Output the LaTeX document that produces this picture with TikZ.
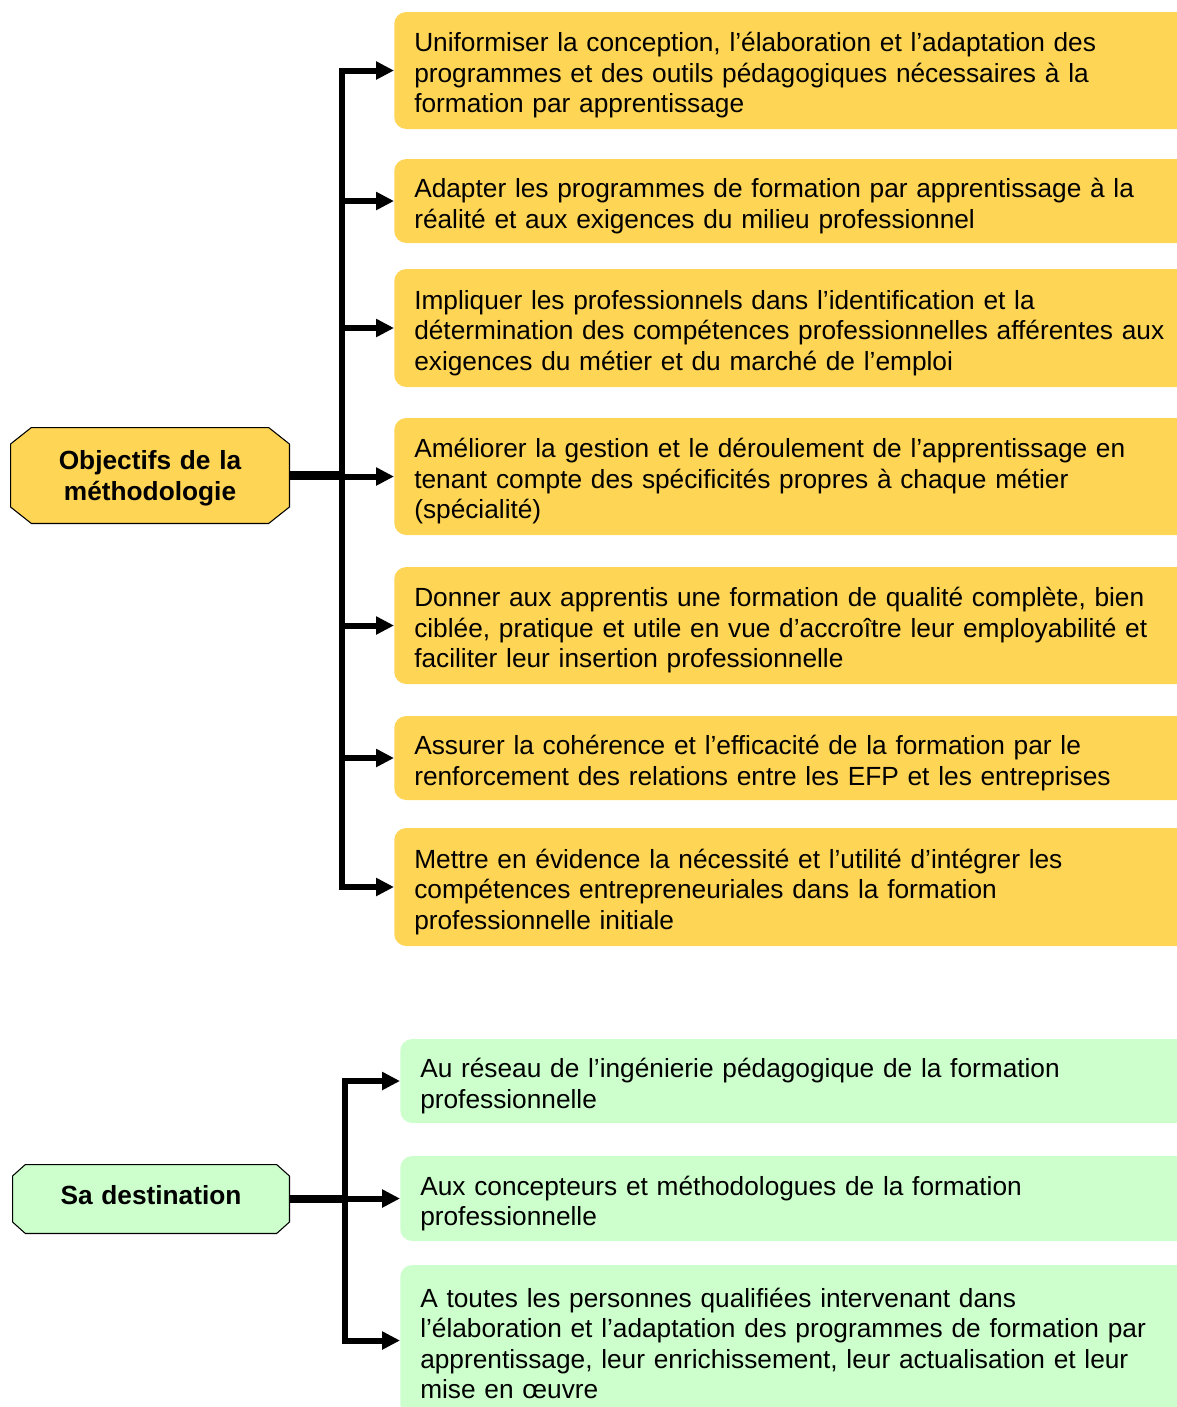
\documentclass[tikz,border=0pt]{standalone}
\usepackage{fontspec}
\setmainfont{Liberation Sans}
\usetikzlibrary{arrows.meta}
\definecolor{goldfill}{HTML}{FFD555}
\definecolor{mintfill}{HTML}{CCFFCC}
\tikzset{
  % fixed height of the first line and depth of the last one, so that every
  % text block is centred the same way whatever its letters
  strutted/.style 2 args={execute at begin node={\rule{0pt}{#1}},
    execute at end node={\rule[-#2]{0pt}{#2}}},
  item/.style={anchor=west, rounded corners=9pt, text width=585pt, inner xsep=15pt,
    inner ysep=0pt, align=left, strutted={22pt}{3.4pt},
    font=\fontsize{19.7}{22.9}\selectfont},
  gold/.style={item, fill=goldfill},
  mint/.style={item, fill=mintfill},
  % octagonal label: a plain node whose background is a chamfered outline
  hub/.style n args={3}{align=center, inner sep=0pt,
    font=\bfseries\fontsize{19.7}{23.2}\selectfont,
    path picture={
      \filldraw[fill=#1, line width=0.8pt]
        ([xshift=#2, yshift=-0.4pt]path picture bounding box.north west)
        -- ([xshift=-#2, yshift=-0.4pt]path picture bounding box.north east)
        -- ([xshift=-0.4pt, yshift=-#3]path picture bounding box.north east)
        -- ([xshift=-0.4pt, yshift=#3]path picture bounding box.south east)
        -- ([xshift=-#2, yshift=0.4pt]path picture bounding box.south east)
        -- ([xshift=#2, yshift=0.4pt]path picture bounding box.south west)
        -- ([xshift=0.4pt, yshift=#3]path picture bounding box.south west)
        -- ([xshift=0.4pt, yshift=-#3]path picture bounding box.north west)
        -- cycle;}},
  trunk/.style={line width=4.5pt},
  feed/.style={line width=6.5pt},
  tip/.tip={Triangle[length=13.5pt,width=13pt]},
  arr/.style={trunk, -tip},
}
\begin{document}
\begin{tikzpicture}[x=0.75pt, y=-0.75pt]
\useasboundingbox (0,0) rectangle (1177,1407);
\clip (0,0) rectangle (1177,1407);

% --- objectives ---
\node[gold, minimum height=87.75pt] (b1) at (394,70.5)
  {Uniformiser la conception, l’élaboration et l’adaptation des\\programmes et des outils pédagogiques nécessaires à la\\formation par apprentissage};
\node[gold, minimum height=63pt] (b2) at (394,201)
  {Adapter les programmes de formation par apprentissage à la\\réalité et aux exigences du milieu professionnel};
\node[gold, minimum height=88.5pt] (b3) at (394,328)
  {Impliquer les professionnels dans l’identification et la\\détermination des compétences professionnelles afférentes aux\\exigences du métier et du marché de l’emploi};
\node[gold, minimum height=87.75pt] (b4) at (394,476.5)
  {Améliorer la gestion et le déroulement de l’apprentissage en\\tenant compte des spécificités propres à chaque métier\\(spécialité)};
\node[gold, minimum height=87.75pt] (b5) at (394,625.5)
  {Donner aux apprentis une formation de qualité complète, bien\\ciblée, pratique et utile en vue d’accroître leur employabilité et\\faciliter leur insertion professionnelle};
\node[gold, minimum height=63pt] (b6) at (394,758)
  {Assurer la cohérence et l’efficacité de la formation par le\\renforcement des relations entre les EFP et les entreprises};
\node[gold, minimum height=88.5pt] (b7) at (394,887)
  {Mettre en évidence la nécessité et l’utilité d’intégrer les\\compétences entrepreneuriales dans la formation\\professionnelle initiale};

\node[hub={goldfill}{16pt}{12.75pt}, strutted={18.8pt}{4pt},
  text width=210pt, minimum height=72.75pt]
  (obj) at (150,475.5) {Objectifs de la\\méthodologie};

\coordinate (T) at (342,0);
\draw[feed] (obj.east) -- (T |- obj.east);
\draw[trunk, tip-tip] (b1.west) -- (T |- b1.west) -- (T |- b7.west) -- (b7.west);
\foreach \b in {b2,b3,b4,b5,b6}
  \draw[arr] (T |- \b.west) -- (\b.west);

% --- audience ---
\node[mint, minimum height=63pt] (g1) at (400,1081)
  {Au réseau de l’ingénierie pédagogique de la formation\\professionnelle};
\node[mint, minimum height=63.75pt] (g2) at (400,1198.5)
  {Aux concepteurs et méthodologues de la formation\\professionnelle};
\node[mint, minimum height=113.25pt] (g3) at (400,1340.5)
  {A toutes les personnes qualifiées intervenant dans\\l’élaboration et l’adaptation des programmes de formation par\\apprentissage, leur enrichissement, leur actualisation et leur\\mise en œuvre};

\node[hub={mintfill}{10pt}{9pt}, strutted={14.3pt}{6pt},
  text width=208.5pt, minimum height=52.5pt]
  (dest) at (151,1199) {Sa destination};

\coordinate (U) at (345,0);
\draw[feed] (dest.east) -- (U |- dest.east);
\draw[trunk, tip-tip] (g1.west) -- (U |- g1.west) -- (U |- g3.west) -- (g3.west);
\draw[arr] (U |- g2.west) -- (g2.west);
\end{tikzpicture}
\end{document}
